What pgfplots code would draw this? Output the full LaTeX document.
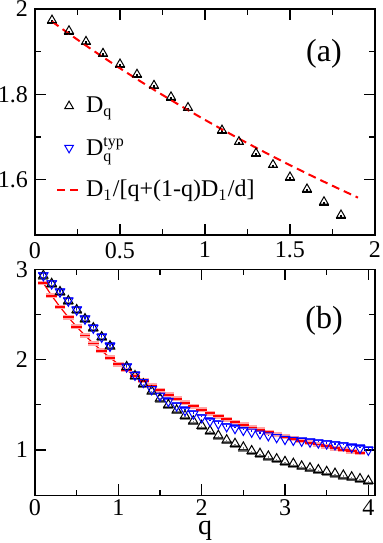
\documentclass[border=0pt]{standalone}
\usepackage{fontspec}
\setmainfont{Liberation Serif}
\usepackage{pgfplots}
\pgfplotsset{compat=1.18}
\begin{document}
\begin{tikzpicture}
\pgfplotsset{
  every axis/.append style={
    scale only axis, width=170pt, height=113pt,
    axis line style={line width=0.6pt},
    every tick/.style={line width=0.6pt, black},
    major tick length=5.5pt, minor tick length=2.8pt,
    tick align=inside,
    /pgf/number format/assume math mode=true,
    tick label style={font=\fontsize{12}{12}\selectfont},
  },
}
\path[use as bounding box] (0pt,0pt) rectangle (191pt,-271.5pt);
% ---------------- panel (a)
\begin{axis}[at={(17.5pt,-117.5pt)}, anchor=south west,
  xmin=0, xmax=2, ymin=1.47, ymax=2,
  xtick={0,0.5,1,1.5,2}, minor x tick num=1,
  ytick={1.6,1.8,2}, minor y tick num=1,
  legend style={draw=none, fill=none, at={(0.055,0.64)}, anchor=north west,
    font=\fontsize{12}{13}\selectfont, row sep=7pt, inner sep=1pt},
  legend cell align=left,
  legend image code/.code={\draw[#1,mark repeat=2,mark phase=2] plot coordinates {(0pt,0pt) (6pt,0pt) (12pt,0pt)};},
]
\addplot[only marks, mark=triangle, mark size=2.5pt, mark options={black, line width=0.5pt},
  error bars/.cd, y dir=minus, y fixed=0.007, error mark=|, error bar style={black, line width=0.6pt},
  error mark options={black, mark size=2.3pt, line width=0.8pt}]
coordinates {
(0.1,1.974) (0.2,1.949) (0.3,1.924) (0.4,1.896) (0.5,1.871) (0.6,1.847)
(0.7,1.821) (0.8,1.794) (0.9,1.769) (1.1,1.716) (1.2,1.689) (1.3,1.662)
(1.4,1.635) (1.5,1.606) (1.6,1.578) (1.7,1.548) (1.8,1.517)};
\addlegendentry{D$_{\mathrm{q}}$}
\addlegendimage{only marks, mark=triangle, mark size=2.5pt, mark options={blue, rotate=180, line width=0.5pt}}
\addlegendentry{D$_{\mathrm{q}}^{\mathrm{typ}}$}
\addplot[red, line width=1pt, dash pattern=on 4pt off 2.5pt] coordinates {
(0.1,1.9706) (0.2,1.9420) (0.3,1.9142) (0.4,1.8872) (0.5,1.8610) (0.6,1.8354)
(0.7,1.8106) (0.8,1.7864) (0.9,1.7629) (1.0,1.7400) (1.1,1.7177) (1.2,1.6959)
(1.3,1.6747) (1.4,1.6540) (1.5,1.6338) (1.6,1.6141) (1.7,1.5949) (1.8,1.5761)
(1.9,1.5577)};
\addlegendentry{D$_{1}$/[q+(1-q)D$_{1}$/d]}
\node[font=\fontsize{16}{16}\selectfont] at (rel axis cs:0.85,0.80) {(a)};
\end{axis}
% ---------------- panel (b)
\begin{axis}[at={(17.5pt,-247.6pt)}, anchor=south west,
  xmin=0, xmax=4.08, ymin=0.5, ymax=3,
  xtick={0,1,2,3,4}, minor x tick num=1,
  ytick={1,2,3}, minor y tick num=1,
  xticklabel style={yshift=1.5pt},
  xlabel={q}, xlabel style={font=\fontsize{14}{14}\selectfont, at={(axis description cs:0.5,0)}, anchor=base, yshift=-19.8pt, inner sep=0pt},
]
\addplot[red!35, line width=2.4pt, only marks, mark=-, mark size=2.6pt] coordinates {
(0.1,2.847) (0.2,2.708) (0.3,2.583) (0.4,2.468) (0.5,2.364) (0.6,2.267)
(0.7,2.179) (0.8,2.097) (0.9,2.021) (1.0,1.950) (1.1,1.884) (1.2,1.822)
(1.3,1.765) (1.4,1.711) (1.5,1.660) (1.6,1.612) (1.7,1.566) (1.8,1.523)
(1.9,1.483) (2.0,1.444) (2.1,1.408) (2.2,1.373) (2.3,1.340) (2.4,1.309)
(2.5,1.279) (2.6,1.250) (2.7,1.223) (2.8,1.196) (2.9,1.171) (3.0,1.147)
(3.1,1.124) (3.2,1.102) (3.3,1.080) (3.4,1.060) (3.5,1.040) (3.6,1.021)
(3.7,1.003) (3.8,0.985) (3.9,0.968)};
\addplot[red, line width=0.6pt, mark=-, mark size=2.6pt, mark options={line width=0.9pt}] coordinates {
(0.1,2.847) (0.2,2.708) (0.3,2.583) (0.4,2.468) (0.5,2.364) (0.6,2.267)
(0.7,2.179) (0.8,2.097) (0.9,2.021) (1.0,1.950) (1.1,1.884) (1.2,1.822)
(1.3,1.765) (1.4,1.711) (1.5,1.660) (1.6,1.612) (1.7,1.566) (1.8,1.523)
(1.9,1.483) (2.0,1.444) (2.1,1.408) (2.2,1.373) (2.3,1.340) (2.4,1.309)
(2.5,1.279) (2.6,1.250) (2.7,1.223) (2.8,1.196) (2.9,1.171) (3.0,1.147)
(3.1,1.124) (3.2,1.102) (3.3,1.080) (3.4,1.060) (3.5,1.040) (3.6,1.021)
(3.7,1.003) (3.8,0.985) (3.9,0.968)};
\addplot[only marks, mark=triangle, mark size=2.7pt, mark options={black, line width=0.5pt},
  error bars/.cd, y dir=minus, y fixed=0.03, error mark=|, error bar style={gray, line width=0.6pt},
  error mark options={gray, mark size=2.5pt, line width=1.5pt}]
coordinates {
(0.1,2.93) (0.2,2.84) (0.3,2.75) (0.4,2.65) (0.5,2.55) (0.6,2.45) (0.7,2.35)
(0.8,2.25) (0.9,2.15) (1.1,1.92) (1.2,1.82) (1.3,1.73) (1.4,1.65) (1.5,1.57)
(1.6,1.50) (1.7,1.44) (1.8,1.38) (1.9,1.32) (2.0,1.27) (2.1,1.21) (2.2,1.16)
(2.3,1.11) (2.4,1.07) (2.5,1.03) (2.6,0.99) (2.7,0.96) (2.8,0.93) (2.9,0.90)
(3.0,0.87) (3.1,0.85) (3.2,0.82) (3.3,0.80) (3.4,0.78) (3.5,0.76) (3.6,0.74)
(3.7,0.72) (3.8,0.70) (3.9,0.68) (4.0,0.66)};
\addplot[only marks, mark=triangle, mark size=2.7pt, mark options={blue, rotate=180, line width=0.5pt},
  error bars/.cd, y dir=plus, y fixed=0.03, error mark=|, error bar style={blue, line width=0.6pt},
  error mark options={blue!70, mark size=2.5pt, line width=1.2pt}]
coordinates {
(0.1,2.93) (0.2,2.84) (0.3,2.75) (0.4,2.65) (0.5,2.55) (0.6,2.45) (0.7,2.35)
(0.8,2.25) (0.9,2.15) (1.1,1.92) (1.2,1.83) (1.3,1.75) (1.4,1.67) (1.5,1.60)
(1.6,1.54) (1.7,1.49) (1.8,1.44) (1.9,1.40) (2.0,1.36) (2.1,1.32) (2.2,1.29)
(2.3,1.26) (2.4,1.24) (2.5,1.22) (2.6,1.20) (2.7,1.18) (2.8,1.16) (2.9,1.14)
(3.0,1.12) (3.1,1.11) (3.2,1.10) (3.3,1.09) (3.4,1.08) (3.5,1.07) (3.6,1.06)
(3.7,1.05) (3.8,1.03) (3.9,1.02) (4.0,1.00)};
\node[font=\fontsize{16}{16}\selectfont] at (rel axis cs:0.85,0.77) {(b)};
\end{axis}
\end{tikzpicture}
\end{document}
